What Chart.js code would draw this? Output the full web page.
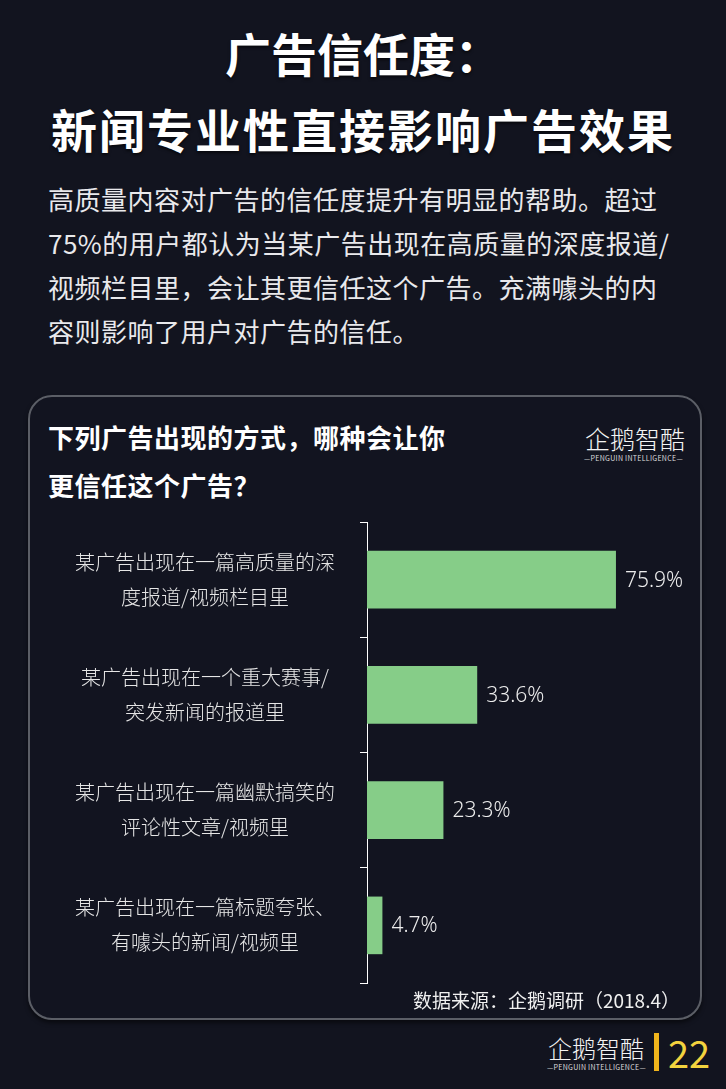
<!DOCTYPE html>
<html>
<head>
<meta charset="utf-8">
<script src="https://cdn.jsdelivr.net/npm/chart.js@4.4.1/dist/chart.umd.min.js"></script>
<style>
  html, body { margin:0; padding:0; }
  body { width:726px; height:1089px; background:#12141f; position:relative; overflow:hidden;
         font-family:"Noto Sans CJK SC","Noto Sans",sans-serif; color:#fff; }
  .abs { position:absolute; white-space:nowrap; }
  .title { left:0; width:726px; text-align:center; font-weight:700; font-size:46px; line-height:60px;
           color:#fff; text-shadow:0 2px 3px rgba(0,0,0,0.6); }
  .para { left:48px; top:177px; font-size:26px; line-height:44px; color:#e9e9ec; letter-spacing:0.5px; }
  .panel { left:28px; top:395px; width:670px; height:621px; border:2.5px solid #5b5e66; border-radius:24px;
           background:#121420; box-shadow:0 3px 4px rgba(0,0,0,0.5); }
  .q { left:48px; top:413px; font-size:26px; line-height:48px; font-weight:700; color:#fff; letter-spacing:0.5px; }
  .logo { font-size:25px; font-weight:300; color:#f4f4f4; letter-spacing:0px; }
  .logosub { font-size:7px; color:#ddd; letter-spacing:0.3px; }
  .src { right:46px; top:987px; font-size:19px; line-height:26px; color:#f0f0f0; }
  .page { left:668px; top:1028px; font-size:38px; line-height:48px; color:#f3d33e; }
  .bar { left:654px; top:1033px; width:5px; height:38px; background:#f1b51c; }
  #wrap { position:absolute; left:28px; top:512px; width:674px; height:482px; }
</style>
</head>
<body>
<div class="abs title" style="top:22px;">广告信任度：</div>
<div class="abs title" style="top:98px; letter-spacing:2px;">新闻专业性直接影响广告效果</div>
<div class="abs para">高质量内容对广告的信任度提升有明显的帮助。超过<br>75%的用户都认为当某广告出现在高质量的深度报道/<br>视频栏目里，会让其更信任这个广告。充满噱头的内<br>容则影响了用户对广告的信任。</div>

<div class="abs panel"></div>
<div class="abs q">下列广告出现的方式，哪种会让你<br>更信任这个广告？</div>
<div class="abs logo" style="left:585px; top:420px;">企鹅智酷</div>
<div class="abs logosub" style="left:584px; top:453px;">—PENGUIN INTELLIGENCE—</div>

<div id="wrap"><canvas id="c"></canvas></div>

<div class="abs src">数据来源：企鹅调研（2018.4）</div>

<div class="abs logo" style="left:548px; top:1030px; font-size:24px;">企鹅智酷</div>
<div class="abs logosub" style="left:547px; top:1062px;">—PENGUIN INTELLIGENCE—</div>
<div class="abs bar"></div>
<div class="abs page">22</div>

<script>
const categories = [
  ['某广告出现在一篇高质量的深', '度报道/视频栏目里'],
  ['某广告出现在一个重大赛事/', '突发新闻的报道里'],
  ['某广告出现在一篇幽默搞笑的', '评论性文章/视频里'],
  ['某广告出现在一篇标题夸张、', '有噱头的新闻/视频里']
];
const values = [75.9, 33.6, 23.3, 4.7];
const axisMax = 100;

const valueLabels = {
  id: 'valueLabels',
  afterDatasetsDraw(chart) {
    const ctx = chart.ctx;
    const meta = chart.getDatasetMeta(0);
    ctx.save();
    ctx.font = '300 21px "Noto Sans","Noto Sans CJK SC",sans-serif';
    ctx.fillStyle = '#ececec';
    ctx.textAlign = 'left';
    ctx.textBaseline = 'middle';
    meta.data.forEach((bar, i) => {
      ctx.fillText(values[i].toFixed(1) + '%', bar.x + 9, bar.y + 1);
    });
    ctx.restore();
  }
};

new Chart(document.getElementById('c'), {
  type: 'bar',
  data: {
    labels: categories,
    datasets: [{
      data: values,
      backgroundColor: '#86cd88',
      borderWidth: 0,
      barPercentage: 0.5,
      categoryPercentage: 1
    }]
  },
  options: {
    indexAxis: 'y',
    responsive: true,
    maintainAspectRatio: false,
    animation: false,
    layout: { padding: { top: 10, bottom: 11, right: 7, left: 0 } },
    plugins: { legend: { display: false }, tooltip: { enabled: false } },
    scales: {
      x: { display: false, min: 0, max: axisMax },
      y: {
        afterFit(scale) { scale.width = 339; scale.paddingTop = 0; scale.paddingBottom = 0; },
        border: { display: true, color: '#ffffff', width: 1 },
        grid: { display: true, drawOnChartArea: false, drawTicks: true, tickLength: 7, color: '#ffffff', lineWidth: 1 },
        ticks: {
          crossAlign: 'center',
          padding: 25,
          color: '#e6e6e6',
          font: { family: '"Noto Sans CJK SC","Noto Sans",sans-serif', size: 20, weight: 300, lineHeight: 1.75 }
        }
      }
    }
  },
  plugins: [valueLabels]
});
</script>
</body>
</html>
